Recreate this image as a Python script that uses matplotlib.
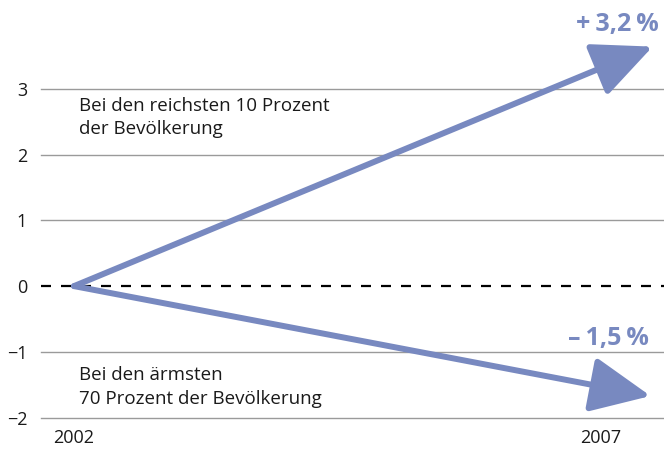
import numpy as np
import matplotlib
matplotlib.use("Agg")
import matplotlib.pyplot as plt
from matplotlib.patches import FancyArrowPatch

plt.rcParams['font.family'] = ['Open Sans', 'DejaVu Sans']

# data
years = [2002, 2007]
y_ticks = [-2, -1, 0, 1, 2, 3]
changes = [3.2, -1.5]
change_labels = ["+\u20093,2\u2009%", "\u2013\u20091,5\u2009%"]
# arrow tips as drawn in the picture (they overshoot the 2007 mark)
tip_x = [2007.49, 2007.47]
tip_y = [3.64, -1.67]
groups = ["Bei den reichsten 10 Prozent\nder Bevölkerung",
          "Bei den ärmsten\n70 Prozent der Bevölkerung"]

BLUE = "#7889c0"

fig = plt.figure(figsize=(6.64, 4.5), dpi=100)
ax = fig.add_axes([41 / 664, 31 / 450, 623 / 664, 419 / 450])

ax.set_xlim(2002 - 33 / 105.4, 2002 + 590 / 105.4)
ax.set_ylim(-2.02, 287 / 66)

for s in ax.spines.values():
    s.set_visible(False)

# grid lines
for t in y_ticks:
    if t == 0:
        continue
    ax.axhline(t, color="#9a9a9a", lw=1.0, zorder=1, clip_on=False)
ax.axhline(0, color="black", lw=1.6, ls=(0, (4.5, 4.5)), zorder=1)

ax.set_yticks(y_ticks)
ax.set_yticklabels([str(t).replace("-", "\u2212") for t in y_ticks])
ax.set_xticks(years)
ax.set_xticklabels([str(y) for y in years])
ax.tick_params(axis="both", length=0, labelsize=13, colors="#1a1a1a")
ax.tick_params(axis="y", pad=10)
ax.tick_params(axis="x", pad=7)

# arrows
for tx, ty in zip(tip_x, tip_y):
    arr = FancyArrowPatch((years[0], 0), (tx, ty),
                          arrowstyle="-|>,head_length=37,head_width=17",
                          mutation_scale=1, color=BLUE, lw=4.3,
                          shrinkA=0, shrinkB=0, zorder=3, clip_on=False)
    ax.add_patch(arr)

# value labels
ax.text(2007.16, 3.97, change_labels[0], color=BLUE, fontsize=18,
        fontweight="bold", ha="center", va="center")
ax.text(2007.07, -0.80, change_labels[1], color=BLUE, fontsize=18,
        fontweight="bold", ha="center", va="center")

# group descriptions
ax.text(2002.05, 2.88, groups[0], fontsize=13.5, ha="left", va="top",
        linespacing=1.4, color="#1a1a1a")
ax.text(2002.05, -1.22, groups[1], fontsize=13.5, ha="left", va="top",
        linespacing=1.4, color="#1a1a1a")

fig.savefig("out.png", dpi=100)
